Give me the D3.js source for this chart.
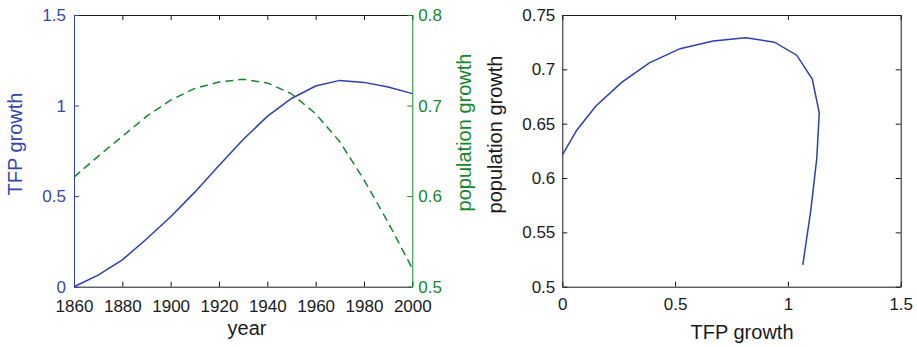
<!DOCTYPE html>
<html lang="en">
<head>
    <meta charset="UTF-8">
    <title>TFP growth and population growth</title>
    <script src="https://d3js.org/d3.v7.min.js"></script>
    <style>
        body {
            margin: 0;
            background: #fff;
        }
        svg text {
            font-family: "Liberation Sans", Arial, Helvetica, sans-serif;
        }
        .tick text {
            font-size: 17px;
        }
        .axis-label {
            font-size: 20px;
        }
    </style>
</head>
<body>
    <div id="chart"></div>

    <script>
        // values, one point per decade
        const years = [1860, 1870, 1880, 1890, 1900, 1910, 1920, 1930, 1940, 1950, 1960, 1970, 1980, 1990, 2000];
        const tfpGrowth = [0, 0.064, 0.148, 0.263, 0.386, 0.522, 0.669, 0.813, 0.940, 1.039, 1.108, 1.139, 1.128, 1.102, 1.066];
        const popGrowth = [0.621, 0.644, 0.666, 0.688, 0.706, 0.719, 0.726, 0.729, 0.725, 0.713, 0.691, 0.660, 0.618, 0.571, 0.520];

        const yearTicks = [1860, 1880, 1900, 1920, 1940, 1960, 1980, 2000];
        const tfpTicks = [0, 0.5, 1, 1.5];
        const popTicksLeft = [0.5, 0.6, 0.7, 0.8];
        const popTicksRight = [0.5, 0.55, 0.6, 0.65, 0.7, 0.75];
        const tfpTicksRight = [0, 0.5, 1, 1.5];

        const blue = "#2b40ad";
        const blueText = "#3447b0";
        const green = "#13882a";
        const dark = "#1a1a1a";

        const svg = d3.select("#chart").append("svg")
            .attr("width", 917)
            .attr("height", 347);

        const plotTop = 15, plotBottom = 286.7;
        const fmt = d => String(d);

        function styleAxis(g, color) {
            g.selectAll(".domain").attr("stroke", color).attr("stroke-width", 1);
            g.selectAll(".tick line").attr("stroke", color);
            g.selectAll(".tick text").attr("fill", color);
        }

        // ---------- left panel: time series with two y axes ----------
        const x1 = d3.scaleLinear().domain([1860, 2000]).range([74, 412.3]);
        const yTfp = d3.scaleLinear().domain([0, 1.5]).range([plotBottom, plotTop]);
        const yPop = d3.scaleLinear().domain([0.5, 0.8]).range([plotBottom, plotTop]);

        svg.append("g")
            .attr("transform", `translate(0,${plotBottom})`)
            .call(d3.axisBottom(x1).tickValues(yearTicks).tickFormat(d3.format("d"))
                .tickSizeInner(-5).tickSizeOuter(0).tickPadding(13))
            .call(g => styleAxis(g, dark));

        svg.append("g")
            .attr("transform", `translate(0,${plotTop})`)
            .call(d3.axisTop(x1).tickValues(yearTicks).tickFormat("")
                .tickSizeInner(-5).tickSizeOuter(0))
            .call(g => styleAxis(g, dark));

        svg.append("g")
            .attr("transform", `translate(${x1.range()[0]},0)`)
            .call(d3.axisLeft(yTfp).tickValues(tfpTicks).tickFormat(fmt)
                .tickSizeInner(-5).tickSizeOuter(0).tickPadding(8))
            .call(g => styleAxis(g, blue))
            .call(g => g.selectAll(".tick text").attr("fill", blueText));

        svg.append("g")
            .attr("transform", `translate(${x1.range()[1]},0)`)
            .call(d3.axisRight(yPop).tickValues(popTicksLeft).tickFormat(fmt)
                .tickSizeInner(-5).tickSizeOuter(0).tickPadding(6))
            .call(g => styleAxis(g, green));

        svg.append("path")
            .datum(years.map((d, i) => [d, popGrowth[i]]))
            .attr("fill", "none")
            .attr("stroke", green)
            .attr("stroke-width", 1.5)
            .attr("stroke-dasharray", "8,5")
            .attr("d", d3.line().x(d => x1(d[0])).y(d => yPop(d[1])));

        svg.append("path")
            .datum(years.map((d, i) => [d, tfpGrowth[i]]))
            .attr("fill", "none")
            .attr("stroke", blue)
            .attr("stroke-width", 1.5)
            .attr("d", d3.line().x(d => x1(d[0])).y(d => yTfp(d[1])));

        svg.append("text")
            .attr("class", "axis-label")
            .attr("x", 247).attr("y", 335)
            .attr("text-anchor", "middle")
            .attr("fill", dark)
            .text("year");

        svg.append("text")
            .attr("class", "axis-label")
            .attr("transform", "translate(22,144) rotate(-90)")
            .attr("text-anchor", "middle")
            .attr("fill", blueText)
            .text("TFP growth");

        svg.append("text")
            .attr("class", "axis-label")
            .attr("transform", "translate(471,132.5) rotate(-90)")
            .attr("text-anchor", "middle")
            .attr("fill", green)
            .text("population growth");

        // ---------- right panel: phase plot ----------
        const x2 = d3.scaleLinear().domain([0, 1.5]).range([562.3, 900.7]);
        const y2 = d3.scaleLinear().domain([0.5, 0.75]).range([plotBottom, plotTop]);

        svg.append("g")
            .attr("transform", `translate(0,${plotBottom})`)
            .call(d3.axisBottom(x2).tickValues(tfpTicksRight).tickFormat(fmt)
                .tickSizeInner(-5).tickSizeOuter(0).tickPadding(11))
            .call(g => styleAxis(g, dark));

        svg.append("g")
            .attr("transform", `translate(0,${plotTop})`)
            .call(d3.axisTop(x2).tickValues(tfpTicksRight).tickFormat("")
                .tickSizeInner(-5).tickSizeOuter(0))
            .call(g => styleAxis(g, dark));

        svg.append("g")
            .attr("transform", `translate(${x2.range()[0]},0)`)
            .call(d3.axisLeft(y2).tickValues(popTicksRight).tickFormat(fmt)
                .tickSizeInner(-5).tickSizeOuter(0).tickPadding(7))
            .call(g => styleAxis(g, dark));

        svg.append("g")
            .attr("transform", `translate(${x2.range()[1]},0)`)
            .call(d3.axisRight(y2).tickValues(popTicksRight).tickFormat("")
                .tickSizeInner(-5).tickSizeOuter(0))
            .call(g => styleAxis(g, dark));

        svg.append("path")
            .datum(tfpGrowth.map((d, i) => [d, popGrowth[i]]))
            .attr("fill", "none")
            .attr("stroke", blue)
            .attr("stroke-width", 1.5)
            .attr("d", d3.line().x(d => x2(d[0])).y(d => y2(d[1])));

        svg.append("text")
            .attr("class", "axis-label")
            .attr("x", 742).attr("y", 338.5)
            .attr("text-anchor", "middle")
            .attr("fill", dark)
            .text("TFP growth");

        svg.append("text")
            .attr("class", "axis-label")
            .attr("transform", "translate(502,134.5) rotate(-90)")
            .attr("text-anchor", "middle")
            .attr("fill", dark)
            .text("population growth");
    </script>
</body>
</html>
